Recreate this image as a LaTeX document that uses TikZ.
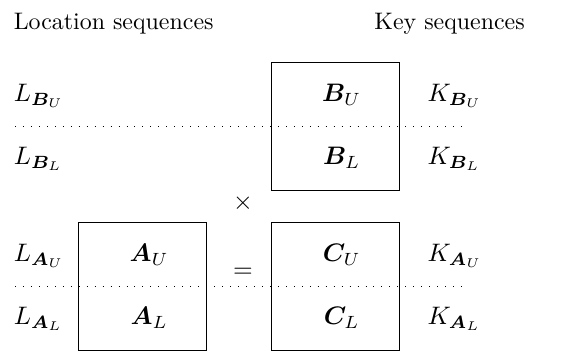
\documentclass[tikz,border=0pt]{standalone}
\usepackage{amsmath,amssymb,bm}
\usetikzlibrary{positioning, calc}

\tikzset{
  blockbox/.style={draw, line width=0.4pt, minimum width=1.92cm, minimum height=1.92cm, inner sep=0pt},
  inlabel/.style={anchor=base, inner sep=0pt, scale=1.08, transform shape},
  seqlabel/.style={anchor=base west, inner sep=0pt, scale=1.08, transform shape},
  heading/.style={anchor=base west, inner sep=0pt, scale=1.02, transform shape},
  sepline/.style={dash pattern=on 0.4pt off 3pt, line width=0.4pt},
}

\begin{document}
\begin{tikzpicture}

% Canvas
\useasboundingbox (0,0) rectangle (8.655,-5.265);

% Titles
\node[heading] (loctitle) at (0.2,-0.44) {Location sequences};
\node[heading] (keytitle) at (5.61,-0.44) {Key sequences};

% =========== Blocks ===========
\node[blockbox] (B) at (5.025,-1.89) {};
\node[blockbox] (A) at (2.1375,-4.29) {};
\node[blockbox] (C) at (5.025,-4.29) {};

% Split lines (through the block centres)
\coordinate (Bleft) at (0.225,-1.89);
\coordinate (Bright) at (6.945,-1.89);
\coordinate (Aleft) at (0.225,-4.29);
\coordinate (Aright) at (6.945,-4.29);
\draw[sepline] (Bleft) -- (Bright);
\draw[sepline] (Aleft) -- (Aright);

% Block contents
\node[inlabel] (BU) at ($(B.center)+(0.1,0.37)$) {$\bm{B}_U$};
\node[inlabel] (BL) at ($(B.center)+(0.1,-0.58)$) {$\bm{B}_L$};
\node[inlabel] (AU) at ($(A.center)+(0.1,0.37)$) {$\bm{A}_U$};
\node[inlabel] (AL) at ($(A.center)+(0.1,-0.58)$) {$\bm{A}_L$};
\node[inlabel] (CU) at ($(C.center)+(0.1,0.37)$) {$\bm{C}_U$};
\node[inlabel] (CL) at ($(C.center)+(0.1,-0.58)$) {$\bm{C}_L$};

% Location sequences
\node[seqlabel] (LBU) at (0.2,-1.52) {$L_{\bm{B}_U}$};
\node[seqlabel] (LBL) at (0.2,-2.47) {$L_{\bm{B}_L}$};
\node[seqlabel] (LAU) at (0.2,-3.92) {$L_{\bm{A}_U}$};
\node[seqlabel] (LAL) at (0.2,-4.87) {$L_{\bm{A}_L}$};

% Key sequences
\node[seqlabel] (KBU) at (6.405,-1.52) {$K_{\bm{B}_U}$};
\node[seqlabel] (KBL) at (6.405,-2.47) {$K_{\bm{B}_L}$};
\node[seqlabel] (KAU) at (6.405,-3.92) {$K_{\bm{A}_U}$};
\node[seqlabel] (KAL) at (6.405,-4.87) {$K_{\bm{A}_L}$};

% Operators
\node[scale=1.08, transform shape] (times) at (3.645,-3.045) {$\times$};
\node[scale=1.08, transform shape] (equals) at (3.645,-4.095) {$=$};

\end{tikzpicture}
\end{document}
